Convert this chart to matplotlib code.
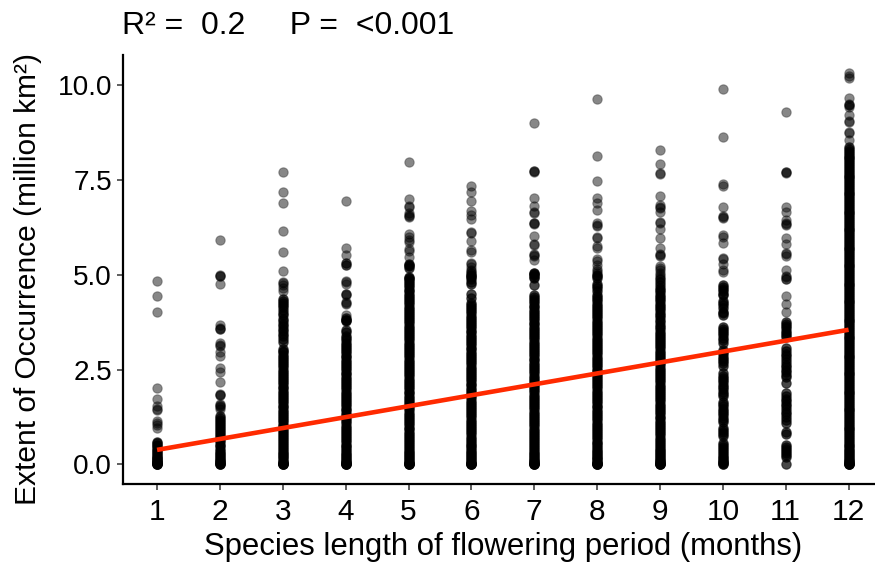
import matplotlib
matplotlib.use("Agg")
import matplotlib.pyplot as plt

plt.rcParams['font.family'] = ['Liberation Sans', 'DejaVu Sans']

months = [1, 2, 3, 4, 5, 6, 7, 8, 9, 10, 11, 12]
y_ticks = [0.0, 2.5, 5.0, 7.5, 10.0]
y_labels = ['0.0', '2.5', '5.0', '7.5', '10.0']
fit_x = [1, 12]
fit_y = [0.38, 3.55]
# upper limit of the overplotted (solid black) run in each month's column
solid_top = [0.65, 1.3, 4.4, 3.9, 5.3, 5.05, 5.05, 5.0, 4.9, 4.75, 3.8, 8.4]

m1 = [4.83, 4.44, 4.01, 2.0, 1.73, 1.54, 1.45, 1.43, 1.15, 1.08, 1.05, 0.95,
      0.6, 0.57, 0.52, 0.47, 0.42, 0.38, 0.34, 0.3, 0.26, 0.23, 0.2, 0.17, 0.14,
      0.11, 0.09, 0.07, 0.05, 0.03, 0.02, 0.01, 0.0, 0.0]
m2 = [5.92, 4.99, 4.98, 4.97, 4.77, 3.68, 3.6, 3.58, 3.57, 3.21, 3.15, 3.12, 2.97, 2.86,
      2.53, 2.44, 2.18, 1.85, 1.84, 1.83, 1.58, 1.56, 1.53, 1.5, 1.46, 1.27, 1.22, 1.17,
      1.12, 1.06, 1.0, 0.95, 0.9, 0.84, 0.8, 0.74, 0.69, 0.63, 0.58, 0.52, 0.47, 0.41,
      0.36, 0.31, 0.27, 0.22, 0.18, 0.14, 0.11, 0.08, 0.05, 0.03, 0.01, 0.0, 0.0]
m3 = [7.7, 7.18, 6.89, 6.15, 5.61, 5.1, 4.82, 4.78, 4.72, 4.65, 4.57, 4.36, 4.31, 4.26,
      4.2, 4.14, 4.07, 4.0, 3.94, 3.84, 3.77, 3.71, 3.64, 3.58, 3.51, 3.44, 3.38, 3.3,
      3.24, 3.05, 3.0, 2.95, 2.89, 2.84, 2.78, 2.72, 2.67, 2.61, 2.56, 2.5, 2.44, 2.39,
      2.33, 2.28, 2.22, 2.17, 2.11, 2.05, 2.0, 1.94, 1.89, 1.83, 1.78, 1.72, 1.66, 1.61,
      1.55, 1.5, 1.44, 1.39, 1.33, 1.27, 1.22, 1.16, 1.11, 1.05, 1.0, 0.94, 0.88, 0.83,
      0.77, 0.72, 0.66, 0.61, 0.55, 0.5, 0.45, 0.4, 0.35, 0.3, 0.26, 0.22, 0.18, 0.14,
      0.1, 0.07, 0.04, 0.02, 0.01, 0.0, 0.0]
m4 = [6.95, 5.7, 5.52, 5.32, 5.3, 5.27, 5.25, 4.84, 4.82, 4.76, 4.5, 4.49, 4.47, 4.27,
      4.25, 4.22, 3.94, 3.86, 3.81, 3.8, 3.78, 3.54, 3.48, 3.38, 3.33, 3.27, 3.21, 3.16,
      3.1, 3.04, 2.98, 2.93, 2.87, 2.82, 2.76, 2.7, 2.65, 2.59, 2.54, 2.48, 2.42, 2.37,
      2.31, 2.26, 2.2, 2.14, 2.09, 2.03, 1.98, 1.92, 1.86, 1.81, 1.75, 1.7, 1.64, 1.58,
      1.53, 1.47, 1.42, 1.36, 1.3, 1.25, 1.19, 1.14, 1.08, 1.02, 0.97, 0.91, 0.86, 0.8,
      0.74, 0.69, 0.63, 0.58, 0.52, 0.47, 0.42, 0.37, 0.32, 0.28, 0.24, 0.2, 0.16, 0.12,
      0.09, 0.06, 0.04, 0.02, 0.01, 0.0, 0.0]
m5 = [7.98, 7.0, 6.82, 6.78, 6.62, 6.58, 6.56, 6.52, 6.08, 5.99, 5.92, 5.87, 5.67, 5.63,
      5.46, 5.29, 5.26, 5.23, 5.18, 4.93, 4.91, 4.88, 4.83, 4.78, 4.72, 4.67, 4.61, 4.56,
      4.5, 4.44, 4.39, 4.33, 4.28, 4.22, 4.16, 4.11, 4.05, 4.0, 3.94, 3.88, 3.83, 3.77,
      3.72, 3.66, 3.6, 3.55, 3.49, 3.44, 3.38, 3.32, 3.27, 3.21, 3.16, 3.1, 3.04, 2.99,
      2.93, 2.88, 2.82, 2.76, 2.71, 2.65, 2.6, 2.54, 2.48, 2.43, 2.37, 2.32, 2.26, 2.2,
      2.15, 2.09, 2.04, 1.98, 1.92, 1.87, 1.81, 1.76, 1.7, 1.64, 1.59, 1.53, 1.48, 1.42,
      1.36, 1.31, 1.25, 1.2, 1.14, 1.08, 1.03, 0.97, 0.92, 0.86, 0.8, 0.75, 0.69, 0.64,
      0.58, 0.53, 0.48, 0.43, 0.38, 0.33, 0.29, 0.25, 0.21, 0.17, 0.13, 0.1, 0.07, 0.04,
      0.02, 0.01, 0.0, 0.0]
m6 = [7.34, 7.19, 6.95, 6.68, 6.58, 6.47, 6.14, 6.11, 5.89, 5.65, 5.6, 5.32, 5.28, 5.2,
      5.14, 5.09, 5.04, 5.0, 4.98, 4.93, 4.88, 4.82, 4.77, 4.5, 4.38, 4.26, 4.21, 4.15,
      4.09, 4.04, 3.98, 3.92, 3.87, 3.81, 3.76, 3.7, 3.64, 3.59, 3.53, 3.48, 3.42, 3.36,
      3.31, 3.25, 3.2, 3.14, 3.08, 3.03, 2.97, 2.92, 2.86, 2.8, 2.75, 2.69, 2.64, 2.58,
      2.52, 2.47, 2.41, 2.36, 2.3, 2.24, 2.19, 2.13, 2.08, 2.02, 1.96, 1.91, 1.85, 1.8,
      1.74, 1.68, 1.63, 1.57, 1.52, 1.46, 1.4, 1.35, 1.29, 1.24, 1.18, 1.12, 1.07, 1.01,
      0.96, 0.9, 0.84, 0.79, 0.73, 0.68, 0.62, 0.57, 0.52, 0.47, 0.42, 0.37, 0.33, 0.29,
      0.25, 0.21, 0.17, 0.13, 0.1, 0.07, 0.04, 0.02, 0.01, 0.0, 0.0]
m7 = [9.0, 7.75, 7.74, 7.72, 7.03, 6.81, 6.66, 6.62, 6.38, 6.36, 6.34, 6.02, 5.82, 5.78,
      5.55, 5.53, 5.5, 5.39, 5.06, 5.04, 5.02, 4.99, 4.95, 4.91, 4.73, 4.47, 4.42, 4.36,
      4.3, 4.25, 4.19, 4.14, 4.08, 4.02, 3.97, 3.91, 3.86, 3.8, 3.74, 3.69, 3.63, 3.58,
      3.52, 3.46, 3.41, 3.35, 3.3, 3.24, 3.18, 3.13, 3.07, 3.02, 2.96, 2.9, 2.85, 2.79,
      2.74, 2.68, 2.62, 2.57, 2.51, 2.46, 2.4, 2.34, 2.29, 2.23, 2.18, 2.12, 2.06, 2.01,
      1.95, 1.9, 1.84, 1.78, 1.73, 1.67, 1.62, 1.56, 1.5, 1.45, 1.39, 1.34, 1.28, 1.22,
      1.17, 1.11, 1.06, 1.0, 0.94, 0.89, 0.83, 0.78, 0.72, 0.66, 0.61, 0.55, 0.5, 0.45,
      0.4, 0.35, 0.31, 0.27, 0.23, 0.19, 0.15, 0.12, 0.09, 0.06, 0.04, 0.02, 0.01, 0.0, 0.0]
m8 = [9.63, 8.14, 7.47, 7.02, 6.9, 6.71, 6.36, 6.31, 6.28, 6.0, 5.97, 5.76, 5.72, 5.41,
      5.37, 5.25, 5.16, 5.1, 5.05, 5.0, 4.96, 4.91, 4.75, 4.7, 4.64, 4.58, 4.46, 4.41,
      4.35, 4.3, 4.24, 4.18, 4.13, 4.07, 4.02, 3.96, 3.9, 3.85, 3.79, 3.74, 3.68, 3.62,
      3.57, 3.51, 3.46, 3.4, 3.34, 3.29, 3.23, 3.18, 3.12, 3.06, 3.01, 2.95, 2.9, 2.84,
      2.78, 2.73, 2.67, 2.62, 2.56, 2.5, 2.45, 2.39, 2.34, 2.28, 2.22, 2.17, 2.11, 2.06,
      2.0, 1.94, 1.89, 1.83, 1.78, 1.72, 1.66, 1.61, 1.55, 1.5, 1.44, 1.38, 1.33, 1.27,
      1.22, 1.16, 1.1, 1.05, 0.99, 0.94, 0.88, 0.82, 0.77, 0.71, 0.66, 0.6, 0.55, 0.5,
      0.45, 0.4, 0.36, 0.32, 0.28, 0.24, 0.2, 0.16, 0.13, 0.1, 0.07, 0.04, 0.02, 0.01, 0.0, 0.0]
m9 = [8.29, 7.92, 7.68, 7.65, 7.08, 6.83, 6.8, 6.77, 6.65, 6.39, 6.36, 6.2, 5.96, 5.7,
      5.55, 5.53, 5.5, 5.23, 5.17, 5.12, 5.05, 5.0, 4.94, 4.88, 4.8, 4.72, 4.66, 4.6,
      4.54, 4.48, 4.42, 4.36, 4.3, 4.24, 4.18, 4.12, 4.06, 4.0, 3.94, 3.88, 3.82, 3.76,
      3.68, 3.62, 3.56, 3.5, 3.45, 3.39, 3.34, 3.28, 3.22, 3.17, 3.11, 3.06, 3.0, 2.94,
      2.89, 2.83, 2.78, 2.72, 2.66, 2.61, 2.55, 2.5, 2.44, 2.38, 2.33, 2.27, 2.22, 2.16,
      2.1, 2.05, 1.99, 1.94, 1.88, 1.82, 1.77, 1.71, 1.66, 1.6, 1.54, 1.49, 1.43, 1.38,
      1.32, 1.26, 1.21, 1.15, 1.1, 1.04, 0.98, 0.93, 0.87, 0.82, 0.76, 0.7, 0.65, 0.59,
      0.54, 0.49, 0.44, 0.39, 0.35, 0.31, 0.27, 0.23, 0.19, 0.15, 0.12, 0.09, 0.06, 0.04,
      0.02, 0.01, 0.0, 0.0]
m10 = [9.89, 8.64, 7.39, 7.35, 6.8, 6.55, 6.53, 6.51, 6.04, 6.0, 5.83, 5.45, 5.41, 5.28,
       5.13, 5.08, 4.73, 4.68, 4.62, 4.56, 4.5, 4.47, 4.3, 4.25, 4.2, 4.12, 4.03, 3.98,
       3.93, 3.63, 3.58, 3.53, 3.47, 3.4, 3.34, 3.27, 3.19, 3.02, 2.96, 2.9, 2.84, 2.78,
       2.72, 2.66, 2.6, 2.4, 2.34, 2.28, 2.22, 2.16, 2.1, 2.04, 1.98, 1.92, 1.86, 1.8,
       1.65, 1.59, 1.53, 1.47, 1.41, 1.35, 1.29, 1.23, 1.17, 1.11, 0.95, 0.9, 0.85, 0.79,
       0.74, 0.55, 0.5, 0.45, 0.4, 0.35, 0.3, 0.25, 0.2, 0.16, 0.12, 0.08, 0.05, 0.03,
       0.01, 0.0]
m11 = [9.3, 7.72, 7.7, 7.68, 6.8, 6.67, 6.45, 6.38, 6.35, 6.31, 5.96, 5.82, 5.57, 5.55,
       5.5, 5.13, 4.96, 4.93, 4.9, 4.88, 4.45, 4.23, 4.01, 3.76, 3.7, 3.65, 3.59, 3.53,
       3.47, 3.41, 3.35, 3.06, 2.98, 2.91, 2.85, 2.78, 2.7, 2.63, 2.56, 2.5, 2.44, 2.36,
       2.31, 2.14, 1.87, 1.8, 1.73, 1.67, 1.6, 1.53, 1.46, 1.39, 1.32, 1.25, 1.17, 1.1,
       0.84, 0.8, 0.51, 0.45, 0.4, 0.35, 0.29, 0.24, 0.18, 0.02]
m12 = [10.32, 10.25, 10.18, 9.67, 9.52, 9.49, 9.47, 9.44, 9.22, 9.06, 9.02, 8.77, 8.73,
       8.57, 8.36, 8.32, 8.27, 8.22, 8.17, 8.12, 8.07, 8.02, 7.97, 7.92, 7.87, 7.82,
       7.77, 7.72, 7.67, 7.62, 7.57, 7.52, 7.47, 7.42, 7.37, 7.32, 7.27, 7.22, 7.17,
       7.12, 7.07, 7.02, 6.97, 6.92, 6.87, 6.82, 6.77, 6.72, 6.67, 6.62, 6.57, 6.52,
       6.47, 6.42, 6.37, 6.32, 6.27, 6.22, 6.17, 6.12, 6.07, 6.02, 5.97, 5.92, 5.87,
       5.82, 5.77, 5.72, 5.67, 5.62, 5.57, 5.52, 5.47, 5.42, 5.37, 5.32, 5.27, 5.22,
       5.17, 5.12, 5.07, 5.02, 4.97, 4.92, 4.87, 4.82, 4.77, 4.72, 4.67, 4.62, 4.57,
       4.52, 4.47, 4.42, 4.37, 4.32, 4.27, 4.22, 4.17, 4.12, 4.07, 4.02, 3.97, 3.92,
       3.87, 3.82, 3.77, 3.72, 3.67, 3.62, 3.57, 3.52, 3.47, 3.42, 3.37, 3.32, 3.27,
       3.22, 3.17, 3.12, 3.07, 3.02, 2.97, 2.92, 2.87, 2.82, 2.77, 2.72, 2.67, 2.62,
       2.57, 2.52, 2.47, 2.42, 2.37, 2.32, 2.27, 2.22, 2.17, 2.12, 2.07, 2.02, 1.97,
       1.92, 1.87, 1.82, 1.77, 1.72, 1.67, 1.62, 1.57, 1.52, 1.47, 1.42, 1.37, 1.32,
       1.27, 1.22, 1.17, 1.12, 1.07, 1.02, 0.97, 0.92, 0.87, 0.82, 0.77, 0.72, 0.67,
       0.62, 0.57, 0.52, 0.47, 0.42, 0.38, 0.34, 0.3, 0.26, 0.22, 0.18, 0.15, 0.12,
       0.09, 0.06, 0.04, 0.02, 0.01, 0.0, 0.0]
eoo = [m1, m2, m3, m4, m5, m6, m7, m8, m9, m10, m11, m12]

fig = plt.figure(figsize=(8.75, 5.63), dpi=100)
ax = fig.add_axes([122.5 / 875, (563 - 484) / 563, (875 - 122.5) / 875, (484 - 55) / 563])

dot = dict(s=46, facecolor=(0, 0, 0, 0.47), edgecolor=(0, 0, 0, 0.3), linewidths=0.8, zorder=2)
for m, vals, top in zip(months, eoo, solid_top):
    ax.scatter([m] * len(vals), vals, **dot)
    solid = [v for v in vals if v <= top]
    ax.scatter([m] * len(solid), solid, **dot)
ax.plot(fit_x, fit_y, color='#FF2A00', lw=3.3, solid_capstyle='butt', zorder=3)

ax.set_xlim(0.45, 12.42)
ax.set_ylim(-0.52, 10.8)
ax.set_xticks(months)
ax.set_yticks(y_ticks)
ax.set_yticklabels(y_labels)
ax.tick_params(axis='x', labelsize=21.5, length=4.5, width=1.1, color='#333333', pad=5.5)
ax.tick_params(axis='y', labelsize=20.2, length=4.5, width=1.1, color='#333333', pad=3)
for s in ('top', 'right'):
    ax.spines[s].set_visible(False)
for s in ('left', 'bottom'):
    ax.spines[s].set_linewidth(1.6)
    ax.spines[s].set_color('black')

ax.set_xlabel('Species length of flowering period (months)', fontsize=22.4)
ax.xaxis.set_label_coords(0.5056, -0.113)
ax.set_ylabel('Extent of Occurrence (million km²)', fontsize=21.5)
ax.yaxis.set_label_coords(-0.1075, 0.478)
fig.text(122 / 875, 1 - 34 / 563, 'R² =  0.2     P =  <0.001', fontsize=23, va='baseline', ha='left')

fig.savefig('out.png', dpi=100)
